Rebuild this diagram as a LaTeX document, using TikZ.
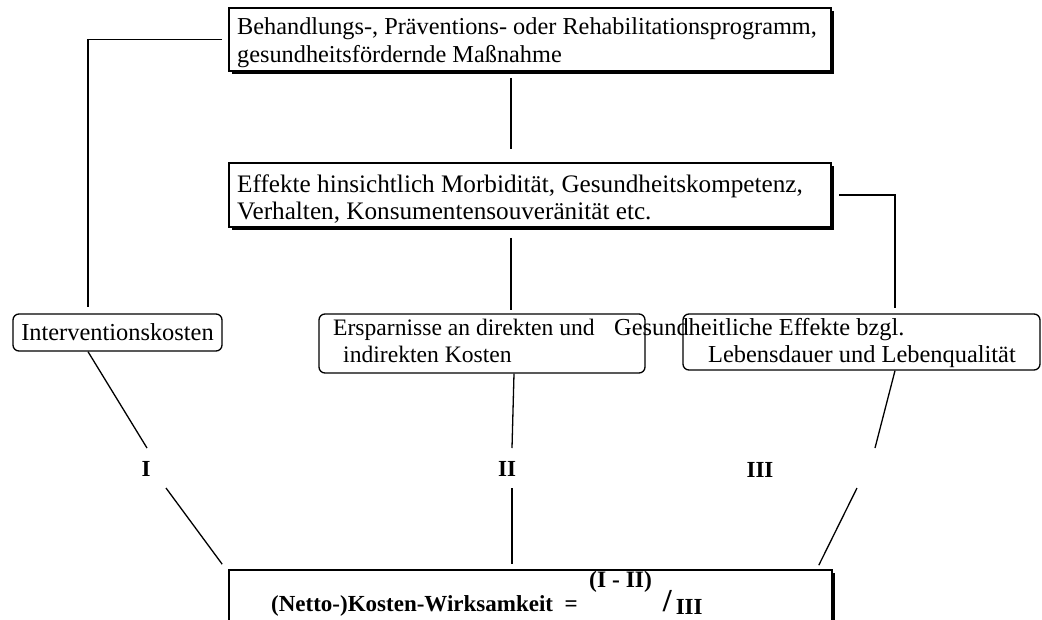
\documentclass[tikz,border=0pt]{standalone}
\usepackage{fontspec}
\setmainfont{Liberation Serif}
\usetikzlibrary{calc,shadows}

\begin{document}
\begin{tikzpicture}[x=1pt,y=-1pt,
    kasten/.style={draw,line width=1.6pt,fill=white,
      drop shadow={shadow xshift=2.5pt,shadow yshift=-2.5pt,fill=black,opacity=1}},
    rund/.style={draw,line width=1.3pt,rounded corners=6pt,inner sep=0pt},
    schrift/.style={font=\fontsize{24.4}{28.5}\selectfont,inner sep=0pt},
    zeile/.style={schrift,anchor=base west},
    marke/.style={font=\fontsize{23}{26}\selectfont\bfseries,inner sep=0pt},
    linie/.style={line width=1.3pt}]
  \clip (0,0) rectangle (1042,619);
  \fill[white] (0,0) rectangle (1042,619);
  % obere Kaesten
  \node[kasten,minimum width=602pt,minimum height=63pt] (prog) at (530,39.5) {};
  \node[zeile,font=\fontsize{24.3}{28}\selectfont] (progA) at (237,34) {Behandlungs-, Präventions- oder Rehabilitationsprogramm,};
  \node[zeile,font=\fontsize{24.3}{28}\selectfont] (progB) at (237,62) {gesundheitsfördernde Maßnahme};
  \node[kasten,minimum width=602pt,minimum height=64pt] (effekt) at (530,195) {};
  \node[zeile,font=\fontsize{25.2}{28}\selectfont] (effektA) at (237,192) {Effekte hinsichtlich Morbidität, Gesundheitskompetenz,};
  \node[zeile,font=\fontsize{25.2}{28}\selectfont] (effektB) at (237,219) {Verhalten, Konsumentensouveränität etc.};
  % mittlere Kaesten
  \node[rund,schrift,minimum width=209pt,minimum height=37pt] (interv) at (117.5,332.5) {Interventionskosten};
  \node[rund,minimum width=326pt,minimum height=59pt] (spar) at (482,343.5) {};
  \node[rund,minimum width=357pt,minimum height=56pt] (gesund) at (861.5,342) {};
  \node[zeile,font=\fontsize{23.6}{28}\selectfont] (sparA) at (333,335) {Ersparnisse an direkten und};
  \node[zeile,font=\fontsize{23.6}{28}\selectfont] (sparB) at (343,362) {indirekten Kosten};
  \node[zeile] (gesundA) at (614,335) {Gesundheitliche Effekte bzgl.};
  \node[zeile] (gesundB) at (708,362) {Lebensdauer und Lebenqualität};
  % Marken
  \node[marke] (lI) at (146,469) {I};
  \node[marke] (lII) at (507,469) {II};
  \node[marke] (lIII) at (760,470) {III};
  % Ergebnis
  \node[kasten,minimum width=603pt,minimum height=80pt] (netto) at (530.5,610) {};
  \node[marke,anchor=base west] (formel) at (271,611)
    {\fontsize{23}{26}\selectfont(Netto-)Kosten-Wirksamkeit \ = \
     \raisebox{24pt}{\fontsize{23.5}{26}\selectfont(I - II)}\hspace{11pt}{\fontsize{32}{32}\selectfont /}\hspace{4pt}\raisebox{-3pt}{\fontsize{23}{26}\selectfont III}};
  % Verbindungen
  \coordinate (knickL) at (88,307);
  \coordinate (knickR) at (895,308);
  \begin{scope}[linie]
    \draw ([xshift=-6pt]prog.west) -| (knickL);
    \draw ($(prog.south)+(-19,6)$) -- ($(effekt.north)+(-19,-13)$);
    \draw ($(effekt.south)+(-19,10)$) -- ($(spar.north)+(29,-3)$);
    \draw ([xshift=7pt]effekt.east) -| (knickR);
    \draw ($(interv.south)+(-29.5,0)$) -- ($(lI)+(1,-21)$);
    \draw ($(lI)+(20,19)$) -- ($(netto.north west)+(-6,-5)$);
    \draw ($(spar.south)+(32,0)$) -- ($(lII)+(5,-21)$);
    \draw ($(lII)+(5,19)$) -- ($(netto.north)+(-18.5,-5)$);
    \draw ($(gesund.south)+(33.5,0)$) -- ($(lIII)+(115,-22)$);
    \draw ($(lIII)+(97,18)$) -- ($(netto.north east)+(-14,-4)$);
  \end{scope}
\end{tikzpicture}
\end{document}
